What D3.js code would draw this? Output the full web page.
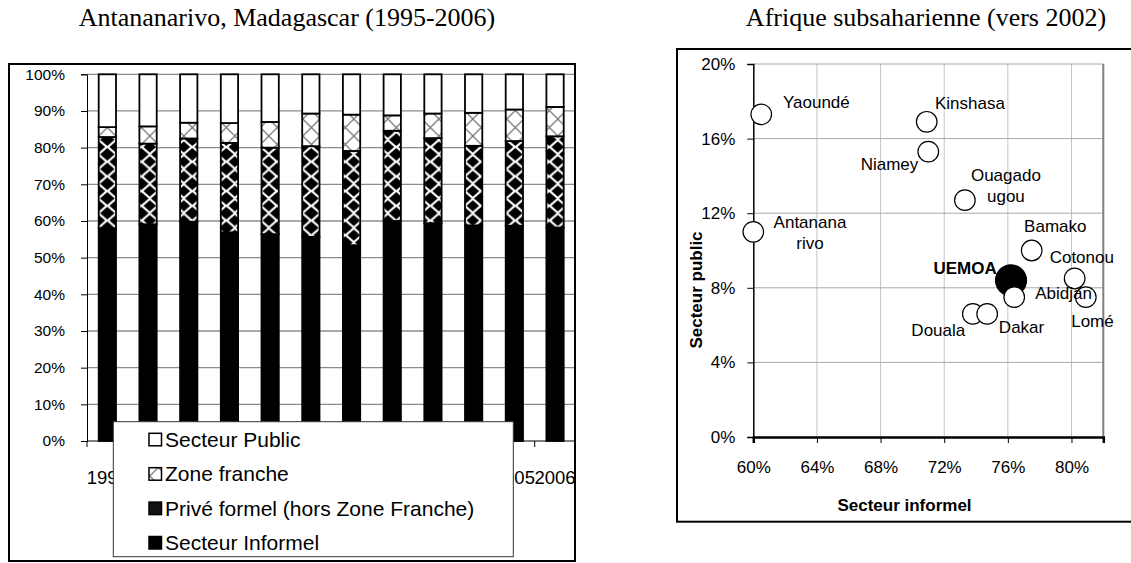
<!DOCTYPE html>
<html><head><meta charset="utf-8">
<script src="https://cdn.jsdelivr.net/npm/d3@7"></script>
<style>body{margin:0;background:#fff;} svg{display:block;}</style>
</head><body>
<svg id="c" width="1131" height="563"></svg>
<script>
// ---------- DATA : left chart (shares of employment, %) ----------
const years = ["1995","1996","1997","1998","1999","2000","2001","2002","2003","2004","2005","2006"];
const secteurInformel = [58.0, 59.1, 59.8, 56.9, 56.4, 55.7, 53.4, 60.0, 59.4, 58.8, 58.7, 58.2];
const priveFormel     = [24.9, 22.0, 22.7, 24.4, 23.6, 24.7, 25.7, 24.6, 23.2, 21.7, 23.1, 24.9];
const zoneFranche     = [ 2.7,  4.7,  4.3,  5.4,  7.0,  8.9,  9.9,  4.2,  6.7,  9.0,  8.6,  8.0];
const secteurPublic   = [14.4, 14.2, 13.2, 13.3, 13.0, 10.7, 11.0, 11.2, 10.7, 10.5,  9.6,  8.9];
const legendLabels = ["Secteur Public","Zone franche","Privé formel (hors Zone Franche)","Secteur Informel"];
const leftTicks = [0,10,20,30,40,50,60,70,80,90,100];

// ---------- DATA : right chart ----------
const cities      = ["Yaoundé","Kinshasa","Niamey","Ouagadougou","Antananarivo","Bamako","Cotonou","Abidjan","Lomé","Douala","Dakar"];
const cityLabels  = [["Yaoundé"],["Kinshasa"],["Niamey"],["Ouagado","ugou"],["Antanana","rivo"],["Bamako"],["Cotonou"],["Abidjan"],["Lomé"],["Douala"],["Dakar"]];
const cityInformel = [60.5, 70.9, 71.0, 73.3, 60.0, 77.5, 80.2, 76.4, 80.9, 73.8, 74.7];
const cityPublic   = [17.3, 16.9, 15.3, 12.7, 11.0, 10.0,  8.5,  7.5,  7.5,  6.6,  6.6];
const aggregateName = ["UEMOA"];
const aggregateInformel = [76.2];
const aggregatePublic = [8.4];
const rightXTicks = [60,64,68,72,76,80];
const rightYTicks = [0,4,8,12,16,20];

// ---------- STYLE / LAYOUT ----------
const labelStyle = {
  "Yaoundé":{a:"start",dx:21.7,dy:-12.6},
  "Kinshasa":{a:"start",dx:8.3,dy:-18.7},
  "Niamey":{a:"end",dx:-10,dy:12.3},
  "Ouagadougou":{a:"middle",dx:41,dy:-25},
  "Antananarivo":{a:"middle",dx:56.7,dy:-9.4},
  "Bamako":{a:"middle",dx:23.6,dy:-25},
  "Cotonou":{a:"start",dx:-25,dy:-21},
  "Abidjan":{a:"start",dx:21,dy:-4.4},
  "Lomé":{a:"start",dx:-14.6,dy:23.4},
  "Douala":{a:"end",dx:-7.6,dy:16},
  "Dakar":{a:"start",dx:11.7,dy:13.3},
  "UEMOA":{a:"end",dx:-14.3,dy:-12.3}
};
const SANS = "Liberation Sans, Arial, sans-serif";
const SERIF = "Liberation Serif, 'Times New Roman', serif";

const svg = d3.select("#c");
svg.append("rect").attr("width",1131).attr("height",563).attr("fill","#fff");

// patterns
const defs = svg.append("defs");
const pd = defs.append("pattern").attr("id","diam").attr("patternUnits","userSpaceOnUse")
  .attr("x",98.8).attr("y",0).attr("width",17).attr("height",14.7);
pd.append("rect").attr("width",17).attr("height",14.7).attr("fill","#fff");
pd.append("path").attr("fill","#000")
  .attr("d","M8.5,0.9 L15.8,7.35 L8.5,13.8 L1.2,7.35 Z");
pd.append("path").attr("fill","#000")
  .attr("d","M0,-5.6 L6.3,0 L0,5.6 Z M17,-5.6 L10.7,0 L17,5.6 Z M0,9.1 L6.3,14.7 L0,20.3 Z M17,9.1 L10.7,14.7 L17,20.3 Z");
const pc = defs.append("pattern").attr("id","cross").attr("patternUnits","userSpaceOnUse")
  .attr("x",98.8).attr("width",17).attr("height",17);
pc.append("rect").attr("width",17).attr("height",17).attr("fill","#fff");
pc.append("path").attr("stroke","#7a7a7a").attr("stroke-width",1.3).attr("fill","none")
  .attr("d","M0,0 L17,17 M17,0 L0,17");

// ================= LEFT CHART =================
const L = svg.append("g");
svg.append("text").attr("x",287).attr("y",26).attr("text-anchor","middle")
  .attr("font-family",SERIF).attr("font-size",26).text("Antananarivo, Madagascar (1995-2006)");

const xL = d3.scaleBand().domain(years).range([87,575.4]).paddingInner(0.575).paddingOuter(0.2875);
const yL = d3.scaleLinear().domain([0,100]).range([441,74.3]);

// gridlines
L.selectAll("line.g").data(leftTicks.filter(d=>d>0)).join("line")
  .attr("x1",87).attr("x2",575).attr("y1",d=>yL(d)).attr("y2",d=>yL(d))
  .attr("stroke","#8c8c8c").attr("stroke-width",1.3);

// y axis
const yAxL = d3.axisLeft(yL).tickValues(leftTicks).tickFormat(d=>d+"%").tickSize(6).tickPadding(16);
const gy = L.append("g").attr("transform","translate(87,0)").call(yAxL);
gy.select(".domain").attr("stroke","#000").attr("stroke-width",1);
gy.selectAll(".tick line").attr("stroke","#000");
gy.selectAll("text").attr("font-family",SANS).attr("font-size",15.5).attr("fill","#000");

// x axis
const xBounds = d3.range(years.length+1).map(i=>87 + i*xL.step());
L.append("line").attr("x1",87).attr("x2",575).attr("y1",441).attr("y2",441).attr("stroke","#000").attr("stroke-width",1);
L.selectAll("line.xt").data(xBounds).join("line").attr("x1",d=>d).attr("x2",d=>d).attr("y1",441).attr("y2",447)
  .attr("stroke","#000").attr("stroke-width",1);
L.selectAll("text.xl").data(years).join("text")
  .attr("x",d=>xL(d)+xL.bandwidth()/2).attr("y",477).attr("text-anchor","middle").attr("dominant-baseline","central")
  .attr("font-family",SANS).attr("font-size",18.5).text(d=>d);

// stacked bars
const rows = years.map((y,i)=>({year:y, inf:secteurInformel[i], prive:priveFormel[i], zone:zoneFranche[i], pub:secteurPublic[i]}));
const keys = ["inf","prive","zone","pub"];
const fills = {inf:"#000", prive:"url(#diam)", zone:"url(#cross)", pub:"#fff"};
const stacked = d3.stack().keys(keys)(rows);
stacked.forEach(s=>{
  L.selectAll(null).data(s).join("rect")
    .attr("x",d=>xL(d.data.year)).attr("width",xL.bandwidth())
    .attr("y",d=>yL(d[1])).attr("height",d=>yL(d[0])-yL(d[1]))
    .attr("fill",fills[s.key]).attr("stroke","#000").attr("stroke-width",1.8);
});

// legend
const lg = L.append("g");
lg.append("rect").attr("x",113.3).attr("y",421.7).attr("width",400).attr("height",135)
  .attr("fill","#fff").attr("stroke","#333").attr("stroke-width",1);
const legFill = ["#fff","url(#cross)","#111","#000"];
legendLabels.forEach((t,i)=>{
  const yy = 439.3 + i*34.4;
  lg.append("rect").attr("x",149).attr("y",yy-6).attr("width",12.5).attr("height",12.5)
    .attr("fill",legFill[i]).attr("stroke","#000").attr("stroke-width",1.5);
  lg.append("text").attr("x",165).attr("y",yy).attr("dominant-baseline","central")
    .attr("font-family",SANS).attr("font-size",21).text(t);
});

// frame
L.append("rect").attr("x",9).attr("y",64).attr("width",566).attr("height",497)
  .attr("fill","none").attr("stroke","#000").attr("stroke-width",2);

// ================= RIGHT CHART =================
const R = svg.append("g");
svg.append("text").attr("x",926).attr("y",26).attr("text-anchor","middle")
  .attr("font-family",SERIF).attr("font-size",26).text("Afrique subsaharienne (vers 2002)");

const xR = d3.scaleLinear().domain([60,82]).range([753.3,1103.3]);
const yR = d3.scaleLinear().domain([0,20]).range([437,64]);

R.selectAll("line.vg").data(rightXTicks.filter(d=>d>60)).join("line")
  .attr("x1",d=>xR(d)).attr("x2",d=>xR(d)).attr("y1",64).attr("y2",437)
  .attr("stroke","#c4c4c4").attr("stroke-width",1);
R.selectAll("line.hg").data(rightYTicks.filter(d=>d>0)).join("line")
  .attr("x1",753.3).attr("x2",1103.3).attr("y1",d=>yR(d)).attr("y2",d=>yR(d))
  .attr("stroke","#a8a8a8").attr("stroke-width",1);
R.append("line").attr("x1",1103.3).attr("x2",1103.3).attr("y1",64).attr("y2",437)
  .attr("stroke","#808080").attr("stroke-width",2);

const yAxR = d3.axisLeft(yR).tickValues(rightYTicks).tickFormat(d=>d+"%").tickSize(6).tickPadding(12);
const gyr = R.append("g").attr("transform","translate(753.3,0)").call(yAxR);
gyr.select(".domain").attr("stroke","#000").attr("stroke-width",1.5);
gyr.selectAll(".tick line").attr("stroke","#000");
gyr.selectAll("text").attr("font-family",SANS).attr("font-size",17).attr("fill","#000");

const xAxR = d3.axisBottom(xR).tickValues(rightXTicks).tickFormat(d=>d+"%").tickSize(6).tickPadding(18);
const gxr = R.append("g").attr("transform","translate(0,437)").call(xAxR);
gxr.select(".domain").attr("stroke","#000").attr("stroke-width",2.5);
gxr.selectAll(".tick line").attr("stroke","#000");
gxr.selectAll("text").attr("font-family",SANS).attr("font-size",17).attr("fill","#000");

R.append("text").attr("x",904.5).attr("y",505).attr("text-anchor","middle").attr("dominant-baseline","central")
  .attr("font-family",SANS).attr("font-size",17).attr("font-weight","bold").text("Secteur informel");
R.append("text").attr("transform","translate(696.7,290) rotate(-90)").attr("text-anchor","middle").attr("dominant-baseline","central")
  .attr("font-family",SANS).attr("font-size",17).attr("font-weight","bold").text("Secteur public");

// aggregate point first
R.selectAll("circle.ag").data(aggregateName).join("circle")
  .attr("cx",(d,i)=>xR(aggregateInformel[i])).attr("cy",(d,i)=>yR(aggregatePublic[i])).attr("r",15.5)
  .attr("fill","#000").attr("stroke","#000").attr("stroke-width",1.2);
R.selectAll("circle.ct").data(cities).join("circle")
  .attr("cx",(d,i)=>xR(cityInformel[i])).attr("cy",(d,i)=>yR(cityPublic[i])).attr("r",10.3)
  .attr("fill","#fff").attr("stroke","#000").attr("stroke-width",1.2);

cities.forEach((c,i)=>{
  const st = labelStyle[c];
  const t = R.append("text").attr("font-family",SANS).attr("font-size",17).attr("text-anchor",st.a)
    .attr("dominant-baseline","central");
  cityLabels[i].forEach((ln,k)=>{
    t.append("tspan").attr("x",xR(cityInformel[i])+st.dx).attr("y",yR(cityPublic[i])+st.dy+k*20.4).text(ln);
  });
});
aggregateName.forEach((n,i)=>{
  const st = labelStyle[n];
  R.append("text").attr("x",xR(aggregateInformel[i])+st.dx).attr("y",yR(aggregatePublic[i])+st.dy)
    .attr("text-anchor",st.a).attr("dominant-baseline","central")
    .attr("font-family",SANS).attr("font-size",17).attr("font-weight","bold").text(n);
});

R.append("rect").attr("x",677).attr("y",49).attr("width",520).attr("height",472.7)
  .attr("fill","none").attr("stroke","#000").attr("stroke-width",2);
</script>
</body></html>
